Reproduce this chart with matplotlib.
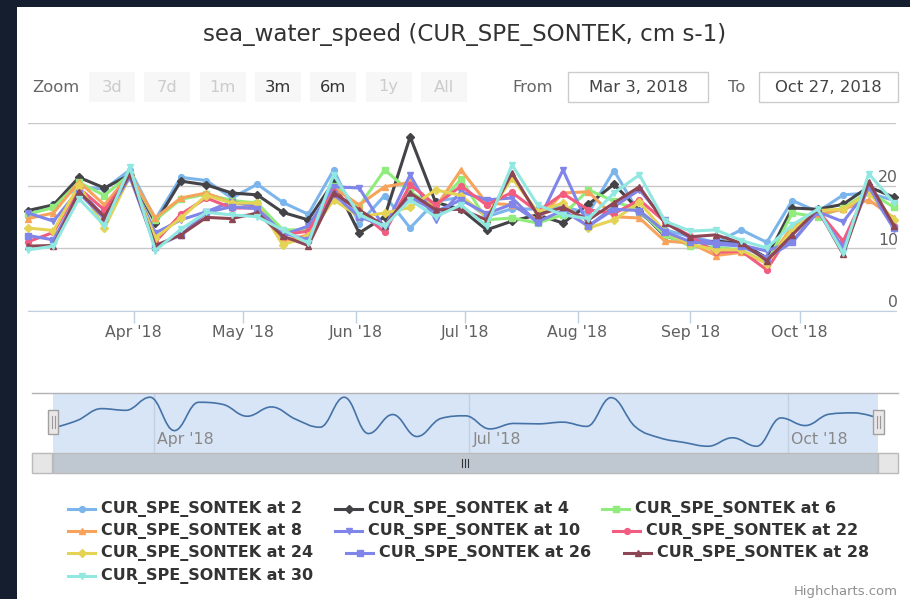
import numpy as np
import pandas as pd
import matplotlib
matplotlib.use("Agg")
import matplotlib.pyplot as plt
import matplotlib.dates as mdates
from matplotlib.patches import Rectangle, Polygon, PathPatch
from matplotlib.path import Path
from matplotlib.lines import Line2D
from matplotlib.transforms import offset_copy

plt.rcParams['font.family'] = ['Liberation Sans Narrow', 'DejaVu Sans']

W, H = 910, 599

# weekly samples, Mar 3 -> Oct 27 2018
dates = pd.date_range('2018-03-03', '2018-10-27', freq='7D')

depths = [2, 4, 6, 8, 10, 22, 24, 26, 28, 30]
colors = ['#7cb5ec', '#434348', '#90ed7d', '#f7a35c', '#8085e9',
          '#f15c80', '#e4d354', '#8085e8', '#8d4653', '#91e8e1']
markers = ['o', 'D', 's', '^', 'v', 'o', 'D', 's', '^', 'v']

speed_2 = [15.2, 17.0, 19.8, 19.4, 22.5, 14.6, 21.3, 20.8, 18.0, 20.2, 17.3, 15.4,
           22.5, 13.9, 18.4, 13.2, 17.5, 18.1, 15.0, 16.3, 16.2, 16.6, 15.6, 22.4,
           15.5, 12.9, 11.8, 10.9, 12.9, 10.9, 17.6, 15.8, 18.5, 18.8, 17.6]
speed_4 = [16.0, 16.9, 21.3, 19.6, 21.7, 14.0, 20.7, 20.1, 18.8, 18.5, 15.7, 14.5,
           20.6, 12.4, 15.0, 27.8, 17.3, 16.2, 12.9, 14.3, 15.3, 14.0, 17.0, 20.2,
           16.0, 11.9, 10.8, 11.1, 10.8, 8.4, 16.4, 16.2, 17.0, 19.8, 18.1]
speed_6 = [15.4, 16.5, 20.5, 18.4, 21.8, 14.5, 17.8, 18.6, 17.6, 17.2, 12.9, 12.9,
           20.0, 16.7, 22.5, 19.0, 16.5, 21.0, 14.5, 14.8, 14.0, 15.3, 19.3, 17.5,
           16.0, 12.1, 10.3, 10.1, 9.7, 7.6, 15.6, 15.0, 16.4, 19.0, 16.5]
speed_8 = [14.7, 15.6, 20.6, 16.9, 21.8, 14.8, 18.0, 18.8, 17.2, 16.8, 11.1, 12.1,
           19.6, 16.9, 19.8, 20.5, 16.5, 22.5, 17.2, 16.9, 14.5, 18.8, 19.0, 15.0,
           14.8, 11.1, 10.8, 8.8, 9.3, 7.6, 13.5, 15.4, 16.2, 17.7, 14.8]
speed_10 = [15.6, 14.3, 19.3, 15.0, 21.3, 12.4, 14.5, 15.8, 17.4, 16.6, 12.1, 13.5,
            19.8, 19.6, 13.2, 21.7, 14.5, 19.0, 17.7, 18.0, 14.0, 22.5, 13.5, 16.6,
            19.3, 14.5, 11.5, 10.9, 10.5, 9.5, 11.1, 15.8, 14.2, 19.5, 13.0]
speed_22 = [11.0, 12.5, 19.6, 16.1, 21.6, 11.0, 15.4, 18.0, 16.4, 16.4, 12.1, 12.7,
            19.0, 15.9, 12.5, 20.1, 16.9, 19.9, 16.9, 18.9, 15.8, 18.7, 16.1, 15.5,
            17.7, 14.2, 11.9, 9.3, 9.5, 6.5, 12.9, 16.0, 11.1, 19.9, 13.5]
speed_24 = [13.2, 12.8, 20.1, 13.2, 21.5, 11.6, 14.8, 18.4, 17.2, 17.2, 10.5, 11.9,
            17.7, 15.0, 15.6, 16.5, 19.3, 18.4, 15.0, 21.2, 15.8, 17.2, 13.2, 14.5,
            17.3, 12.6, 10.6, 9.7, 9.7, 7.5, 13.0, 16.0, 16.2, 18.8, 14.5]
speed_26 = [12.0, 11.3, 18.8, 14.7, 21.4, 10.2, 12.1, 15.7, 16.6, 16.3, 12.4, 11.3,
            18.6, 15.0, 13.5, 18.2, 15.8, 17.7, 15.5, 17.0, 14.2, 16.0, 13.5, 16.2,
            16.0, 12.6, 11.0, 10.6, 10.3, 8.4, 10.9, 15.8, 10.1, 19.8, 13.2]
speed_28 = [10.3, 10.4, 19.0, 15.0, 21.8, 10.4, 12.1, 14.9, 14.7, 15.6, 11.9, 10.4,
            18.8, 16.1, 13.5, 18.8, 16.1, 16.2, 14.5, 22.0, 15.3, 16.5, 14.5, 17.2,
            19.8, 14.0, 11.8, 12.1, 10.8, 8.0, 12.1, 16.2, 9.0, 20.6, 13.5]
speed_30 = [9.7, 10.3, 17.9, 13.6, 22.9, 9.6, 13.0, 15.7, 15.3, 15.0, 12.9, 10.8,
            21.7, 15.3, 13.5, 17.7, 15.0, 16.9, 13.5, 23.3, 16.9, 15.3, 14.7, 18.8,
            21.7, 14.3, 12.7, 12.9, 11.2, 10.0, 13.7, 16.2, 9.2, 21.9, 17.2]

series = [speed_2, speed_4, speed_6, speed_8, speed_10,
          speed_22, speed_24, speed_26, speed_28, speed_30]
labels = ['CUR_SPE_SONTEK at %d' % d for d in depths]

fig = plt.figure(figsize=(W / 100, H / 100), dpi=100)
fig.patch.set_facecolor('#141e2e')
renderer = fig.canvas.get_renderer()


def fx(px):
    return px / W


def fy(py):
    return 1 - py / H


def frect(x0, y0, x1, y1, **kw):
    r = Rectangle((fx(x0), fy(y1)), fx(x1) - fx(x0), fy(y0) - fy(y1),
                  transform=fig.transFigure, **kw)
    fig.add_artist(r)
    return r


def fline(xs, ys, **kw):
    fig.add_artist(Line2D([fx(v) for v in xs], [fy(v) for v in ys],
                          transform=fig.transFigure, **kw))


def text_w(s, size, weight='normal'):
    t = fig.text(0, 0, s, fontsize=size, fontweight=weight)
    w = t.get_window_extent(renderer).width
    t.remove()
    return w


def fit(s, target, weight='normal'):
    # font size giving the wanted pixel width
    return 10 * target / text_w(s, 10, weight)


# white panel
frect(17, 7, W, H, facecolor='white', edgecolor='none', zorder=0)

# title
fig.text(fx(465), fy(35), 'sea_water_speed (CUR_SPE_SONTEK, cm s-1)',
         fontsize=fit('sea_water_speed (CUR_SPE_SONTEK, cm s-1)', 524),
         color='#333333', ha='center', va='center')

# range selector
small = fit('Zoom', 47)
fig.text(fx(32), fy(87), 'Zoom', fontsize=small, color='#666666', va='center')
buttons = ['3d', '7d', '1m', '3m', '6m', '1y', 'All']
enabled = ['3m', '6m']
for i, b in enumerate(buttons):
    cx = 112 + 55.3 * i
    frect(cx - 23, 72, cx + 23, 102, facecolor='#f7f7f7', edgecolor='none', zorder=1)
    fig.text(fx(cx), fy(87), b, fontsize=small, ha='center', va='center',
             color='#333333' if b in enabled else '#cccccc', zorder=2)

fig.text(fx(533), fy(87), 'From', fontsize=small, color='#666666', ha='center', va='center')
fig.text(fx(737), fy(87), 'To', fontsize=small, color='#666666', ha='center', va='center')
frect(568, 72, 708, 102, facecolor='white', edgecolor='#cccccc', lw=1, zorder=1)
frect(759, 72, 898, 102, facecolor='white', edgecolor='#cccccc', lw=1, zorder=1)
fig.text(fx(638), fy(87), 'Mar 3, 2018', fontsize=small, color='#444444', ha='center', va='center')
fig.text(fx(828), fy(87), 'Oct 27, 2018', fontsize=small, color='#444444', ha='center', va='center')

# main chart
ax = fig.add_axes([fx(28), fy(310.5), fx(896) - fx(28), fy(123) - fy(310.5)])
ax.set_facecolor('none')
for vals, c, m in zip(series, colors, markers):
    ax.plot(dates, vals, color=c, lw=2.2, marker=m, ms=4.2, mec=c,
            clip_on=False, zorder=3)
ax.set_ylim(0, 30)
ax.set_xlim(dates[0], dates[-1] + pd.Timedelta(hours=12))
ax.set_yticks([0, 10, 20, 30])
ax.yaxis.grid(True, color='#c8c8c8', lw=1)
ax.tick_params(axis='y', length=0, labelleft=False)
for s in ['top', 'left', 'right']:
    ax.spines[s].set_visible(False)
ax.spines['bottom'].set_color('#c0d0e0')
ax.spines['bottom'].set_zorder(2)
ax.xaxis.set_major_locator(mdates.MonthLocator())
ax.xaxis.set_major_formatter(mdates.DateFormatter("%b '%y"))
tick_fs = fit("Apr '18", 57)
ax.tick_params(axis='x', length=8.5, width=1, color='#c0d0e0', pad=2,
               labelsize=tick_fs, labelcolor='#606060')
ylab_tr = offset_copy(ax.get_yaxis_transform(), fig=fig, x=1.5, y=2.5, units='points')
for v in [0, 10, 20]:
    ax.text(1.0, v, str(v), transform=ylab_tr, ha='right', va='baseline',
            fontsize=tick_fs, color='#606060')


# navigator (spline of the first series)
def hc_spline(xs, ys, smoothing=1.5):
    denom = smoothing + 1
    n = len(xs)
    lc, rc = [None] * n, [None] * n
    for i in range(n):
        x, y = xs[i], ys[i]
        if 0 < i < n - 1:
            lx, ly = xs[i - 1], ys[i - 1]
            nx, ny = xs[i + 1], ys[i + 1]
            lcx = (smoothing * x + lx) / denom
            lcy = (smoothing * y + ly) / denom
            rcx = (smoothing * x + nx) / denom
            rcy = (smoothing * y + ny) / denom
            corr = ((rcy - lcy) * (rcx - x)) / (rcx - lcx) + y - rcy
            lcy += corr
            rcy += corr
            if lcy > ly and lcy > y:
                lcy = max(ly, y)
                rcy = 2 * y - lcy
            elif lcy < ly and lcy < y:
                lcy = min(ly, y)
                rcy = 2 * y - lcy
            if rcy > ny and rcy > y:
                rcy = max(ny, y)
                lcy = 2 * y - rcy
            elif rcy < ny and rcy < y:
                rcy = min(ny, y)
                lcy = 2 * y - rcy
            lc[i], rc[i] = (lcx, lcy), (rcx, rcy)
        else:
            lc[i] = rc[i] = (x, y)
    verts = [(xs[0], ys[0])]
    codes = [Path.MOVETO]
    for i in range(1, n):
        verts += [rc[i - 1], lc[i], (xs[i], ys[i])]
        codes += [Path.CURVE4] * 3
    return Path(verts, codes)


nav = fig.add_axes([fx(53), fy(453), fx(878) - fx(53), fy(393) - fy(453)])
nav.set_facecolor('#d8e5f6')
nav.set_xlim(dates[0], dates[-1])
nav.set_ylim(9.3, 23.5)
nav.set_xticks([])
nav.set_yticks([])
for s in nav.spines.values():
    s.set_visible(False)
xnum = mdates.date2num(dates.to_pydatetime())
nav.add_patch(PathPatch(hc_spline(list(xnum), speed_2), fill=False,
                        edgecolor='#4572a7', lw=1.2, zorder=3))
for d in ['2018-04-01', '2018-07-01', '2018-10-01']:
    dt = pd.Timestamp(d)
    nav.axvline(dt, color='#c3d0e2', lw=1, zorder=1)
    nav.annotate(dt.strftime("%b '%y"), (mdates.date2num(dt), 0.22),
                 xycoords=('data', 'axes fraction'), xytext=(2.5, 0),
                 textcoords='offset points', fontsize=tick_fs, color='#888888',
                 va='center', ha='left')

fline([32, 898], [393, 393], color='#b2b1b6', lw=1)

# scrollbar
frect(32, 453, 898, 473, facecolor='#eeeeee', edgecolor='#eeeeee', lw=1, zorder=1)
frect(53, 453, 878, 473, facecolor='#bfc8d1', edgecolor='#bbbbbb', lw=1, zorder=2)
for x0 in [32, 878]:
    frect(x0, 453, x0 + 20, 473, facecolor='#e6e6e6', edgecolor='#bbbbbb', lw=1, zorder=2)
fig.add_artist(Polygon([(fx(44), fy(459)), (fx(44), fy(467)), (fx(40), fy(463))],
                       closed=True, transform=fig.transFigure, color='#666666'))
fig.add_artist(Polygon([(fx(886), fy(459)), (fx(886), fy(467)), (fx(890), fy(463))],
                       closed=True, transform=fig.transFigure, color='#666666'))
for gx in [462, 465, 468]:
    fline([gx, gx], [459, 467], color='#333333', lw=0.8)

# navigator handles
for hx in [53, 878]:
    frect(hx - 5.5, 410, hx + 5.5, 434, facecolor='#ebe7e8', edgecolor='#a0a0a0',
          lw=1, zorder=5)
    for gx in [hx - 1.5, hx + 1.5]:
        fline([gx, gx], [416, 428], color='#999999', lw=0.8, zorder=6)

# legend
leg_fs = fit(labels[0], 201, 'bold')
rows = [labels[i:i + 3] for i in range(0, len(labels), 3)]
row_y = [509, 531, 553, 576]
k = 0
for r, row in enumerate(rows):
    x = 68
    y = row_y[r]
    for lab in row:
        c, m = colors[k], markers[k]
        fig.add_artist(Line2D([fx(x), fx(x + 27)], [fy(y), fy(y)], color=c, lw=2.2,
                              transform=fig.transFigure))
        fig.add_artist(Line2D([fx(x + 13.5)], [fy(y)], color=c, marker=m, ms=4.2,
                              mec=c, transform=fig.transFigure))
        fig.text(fx(x + 33), fy(y), lab, fontsize=leg_fs, fontweight='bold',
                 color='#333333', va='center', ha='left')
        x = x + 33 + text_w(lab, leg_fs, 'bold') + 33
        k += 1

# credits
fig.text(fx(898), fy(592), 'Highcharts.com', fontsize=fit('Highcharts.com', 103),
         color='#909090', ha='right', va='center')

fig.savefig('out.png', dpi=100, facecolor=fig.get_facecolor())
